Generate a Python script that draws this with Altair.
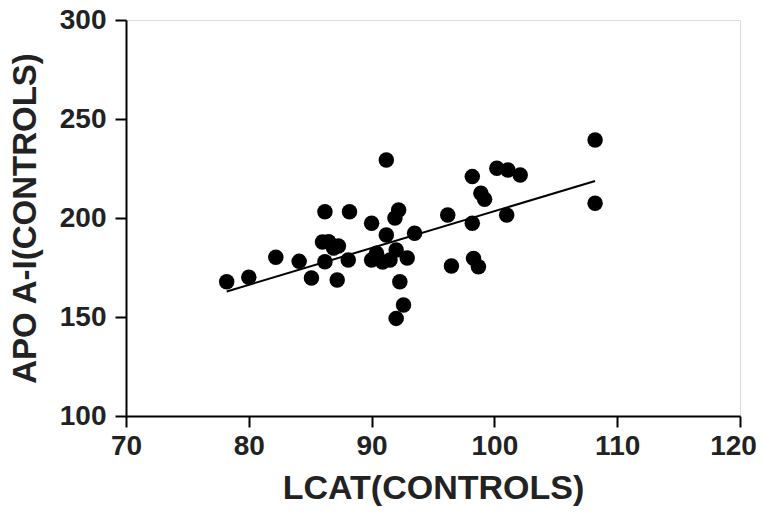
import altair as alt
import pandas as pd

lcat = [78.2, 80.0, 82.2, 84.1, 85.1, 86.2, 88.2, 86.5, 86.9, 86.0, 87.3, 86.2, 87.2, 88.1,
        90.0, 91.2, 92.2, 91.9, 91.2, 93.5, 90.4, 90.0, 91.5, 92.9, 90.9, 92.3, 92.6, 92.0, 92.0,
        96.2, 96.5, 98.2, 98.9, 99.2, 98.2, 98.3, 98.7, 100.2, 101.1, 102.1, 101.0, 108.2, 108.2]
apo = [167.8, 170.1, 180.2, 178.1, 169.7, 203.2, 203.2, 188.0, 184.8, 187.9, 185.9, 177.9, 168.7, 178.8,
       197.3, 229.3, 204.0, 200.0, 191.4, 192.3, 182.2, 178.8, 178.8, 179.8, 177.8, 167.8, 156.1, 149.3, 183.8,
       201.5, 175.8, 220.9, 212.5, 209.5, 197.3, 179.6, 175.4, 225.1, 224.2, 221.7, 201.5, 239.4, 207.4]

fit_x = [78.2, 108.2]
fit_y = [162.9, 218.7]

pts = pd.DataFrame({"x": lcat, "y": apo})
fit = pd.DataFrame({"x": fit_x, "y": fit_y})

xs = alt.Scale(domain=[70, 120], nice=False, zero=False)
ys = alt.Scale(domain=[100, 300], nice=False, zero=False)

font = "Liberation Sans"

xaxis = alt.Axis(title="LCAT(CONTROLS)", values=[70, 80, 90, 100, 110, 120], grid=False,
                 domainColor="black", domainWidth=2, tickColor="black", tickWidth=2, tickSize=11,
                 labelFont=font, labelFontSize=28, labelFontWeight="bold", labelColor="#222",
                 labelPadding=5,
                 labelOffset={"condition": {"test": "datum.value == 120", "value": -7}, "value": 0},
                 titleFont=font, titleFontSize=34, titleFontWeight="bold",
                 titleColor="#222", titlePadding=11, labelFlush=False)
yaxis = alt.Axis(title="APO A-I(CONTROLS)", values=[100, 150, 200, 250, 300], grid=False,
                 domainColor="black", domainWidth=2, tickColor="black", tickWidth=2, tickSize=11,
                 labelFont=font, labelFontSize=28, labelFontWeight="bold", labelColor="#222",
                 labelPadding=9, titleFont=font, titleFontSize=33, titleFontWeight="bold",
                 titleColor="#222", titlePadding=17, labelFlush=False)

points = alt.Chart(pts).mark_circle(size=240, color="black", opacity=1).encode(
    x=alt.X("x:Q", scale=xs, axis=xaxis),
    y=alt.Y("y:Q", scale=ys, axis=yaxis),
)
line = alt.Chart(fit).mark_line(color="black", strokeWidth=2).encode(
    x=alt.X("x:Q", scale=xs),
    y=alt.Y("y:Q", scale=ys),
)

chart = (points + line).properties(
    width=614, height=396,
    autosize=alt.AutoSizeParams(type="none"),
    padding={"left": 118, "top": 12, "right": 17, "bottom": 93},
).configure_view(stroke=None).configure(background="white")

chart.save("out.html", embed_options={"renderer": "svg", "actions": False})
